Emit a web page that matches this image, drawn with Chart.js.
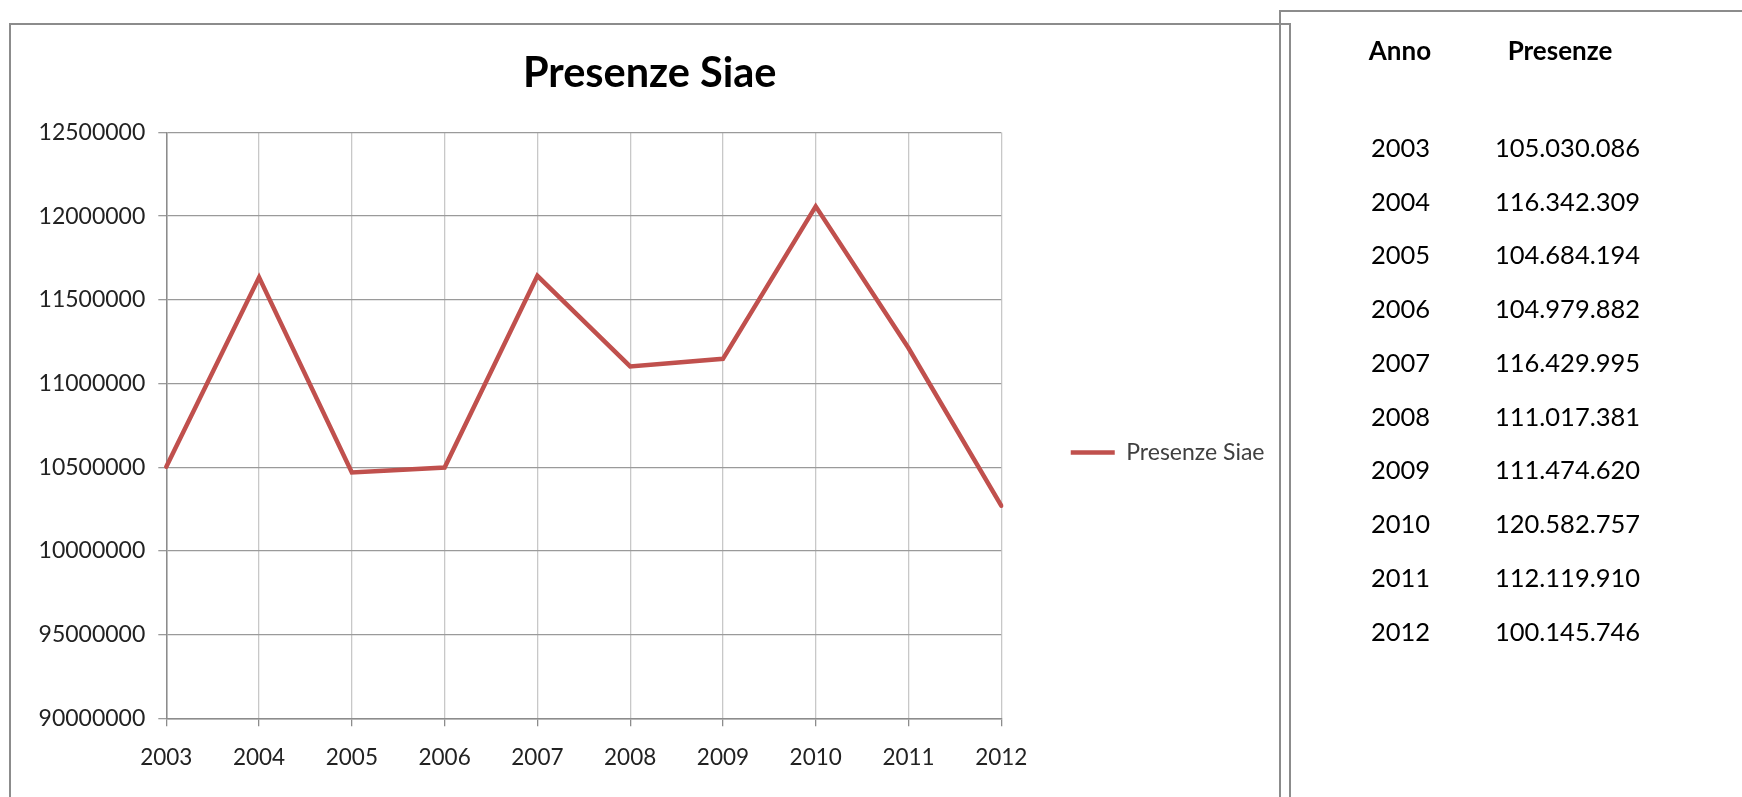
<!DOCTYPE html>
<html>
<head>
<meta charset="utf-8">
<script src="https://cdn.jsdelivr.net/npm/chart.js@4.4.1/dist/chart.umd.min.js"></script>
<style>
html,body{margin:0;padding:0;background:#fff;overflow:hidden;width:1742px;height:797px;}
#page{position:relative;width:1742px;height:797px;overflow:hidden;background:#fff;}
#chartFrame{position:absolute;left:9px;top:23px;width:1278px;height:900px;border:2px solid #8c8c8c;}
#tableFrame{position:absolute;left:1279px;top:10px;width:600px;height:900px;border:2px solid #8c8c8c;}
#c{position:absolute;left:0;top:0;}
.cell{position:absolute;width:240px;text-align:center;font-family:Lato,"Open Sans",sans-serif;color:#000;white-space:nowrap;}
.hd{font-weight:bold;font-size:26px;line-height:31px;}
.rw{font-size:25.5px;line-height:31px;}
</style>
</head>
<body>
<div id="page">
  <div id="chartFrame"></div>
  <div id="tableFrame"></div>
  <canvas id="c" width="1290" height="905"></canvas>
  <div id="table"></div>
</div>
<script>
// ---- data ----
const years = ['2003','2004','2005','2006','2007','2008','2009','2010','2011','2012'];
const presenzeSeries = [105030086, 116342309, 104684194, 104979882, 116429995, 111017381, 111474620, 120582757, 112119910, 102700000];
const tableValues = [105030086, 116342309, 104684194, 104979882, 116429995, 111017381, 111474620, 120582757, 112119910, 100145746];
const yTickLabels = ['90000000','95000000','10000000','10500000','11000000','11500000','12000000','12500000'];
const tableHeaders = ['Anno','Presenze'];
const seriesName = 'Presenze Siae';
const chartTitle = 'Presenze Siae';

function fmtIt(n){ return String(n).replace(/\B(?=(\d{3})+(?!\d))/g,'.'); }

function buildTable(){
  const t = document.getElementById('table');
  const colCenters = [1400.5, 1567.5];
  const hdCenters = [1400, 1560];
  tableHeaders.forEach((h,i)=>{
    const d = document.createElement('div');
    d.className = 'cell hd';
    d.textContent = h;
    d.style.left = (hdCenters[i]-120)+'px';
    d.style.top = (50.8-15.5-0.7)+'px';
    t.appendChild(d);
  });
  years.forEach((y,i)=>{
    const cy = 148 + 53.75*i;
    [y, fmtIt(tableValues[i])].forEach((txt,j)=>{
      const d = document.createElement('div');
      d.className = 'cell rw';
      d.textContent = txt;
      d.style.left = (colCenters[j]-120)+'px';
      d.style.top = (cy-15.5-0.7)+'px';
      t.appendChild(d);
    });
  });
}

function buildChart(){
  const canvas = document.getElementById('c');
  const ctx = canvas.getContext('2d');
  const W = canvas.width;
  // layout targets (page px)
  const plotLeft = 166.3, plotRight = 999.5, titleCenterX = 649.7;
  const legFont = 23, legPad = 69.5, legBox = 44;
  ctx.font = legFont + 'px Lato';
  const tw = ctx.measureText(seriesName).width;
  const legendW = Math.ceil(legPad + legBox + legFont/2 + tw + 10) + 1;
  const contentRight = plotRight + legendW;
  const contentLeft = 2*titleCenterX - contentRight;
  const padRight = W - contentRight;
  const yWidth = plotLeft - contentLeft;

  new Chart(ctx, {
    type: 'line',
    data: {
      labels: years,
      datasets: [{
        label: seriesName,
        data: presenzeSeries,
        borderColor: '#C0504D',
        backgroundColor: '#C0504D',
        borderWidth: 4.5,
        borderCapStyle: 'round',
        pointRadius: 0,
        pointHoverRadius: 0,
        tension: 0,
        fill: false
      }]
    },
    options: {
      responsive: false,
      animation: false,
      devicePixelRatio: 1,
      layout: { padding: { left: contentLeft, right: padRight, top: 0, bottom: 0 } },
      plugins: {
        title: {
          display: true, text: chartTitle, color: '#000',
          font: { family: 'Lato', size: 41.5, weight: 'bold', lineHeight: 1.2 },
          padding: { top: 48.4, bottom: 34.2 }
        },
        legend: {
          display: true, position: 'right', align: 'center', maxWidth: legendW,
          labels: {
            usePointStyle: true, pointStyle: 'line', pointStyleWidth: legBox,
            padding: legPad, color: '#404040',
            font: { family: 'Lato', size: legFont }
          }
        },
        tooltip: { enabled: false }
      },
      scales: {
        x: {
          type: 'category', offset: false,
          grid: { color: '#c8c8c8', tickColor: '#8c8c8c', lineWidth: 1.3, tickLength: 8, drawTicks: true },
          border: { color: '#8c8c8c', width: 1.5 },
          ticks: { color: '#222', font: { family: 'Lato', size: 22.5 }, padding: 18, maxRotation: 0, autoSkip: false },
          afterFit: (s) => { s.height = 186.7; }
        },
        y: {
          min: 90000000, max: 125000000,
          ticks: { stepSize: 5000000, color: '#222', font: { family: 'Lato', size: 23 }, padding: 13,
                   callback: (v, i) => yTickLabels[i] },
          grid: { color: '#9a9a9a', lineWidth: 1.3, tickLength: 8 },
          border: { color: '#8c8c8c', width: 1.5 },
          afterFit: (s) => { s.width = yWidth; }
        }
      }
    }
  });
}

Promise.all([
  document.fonts.load('bold 41.5px Lato'),
  document.fonts.load('23px Lato'),
  document.fonts.load('bold 26px Lato')
]).catch(()=>{}).then(()=>{ buildTable(); buildChart(); });
</script>
</body>
</html>
